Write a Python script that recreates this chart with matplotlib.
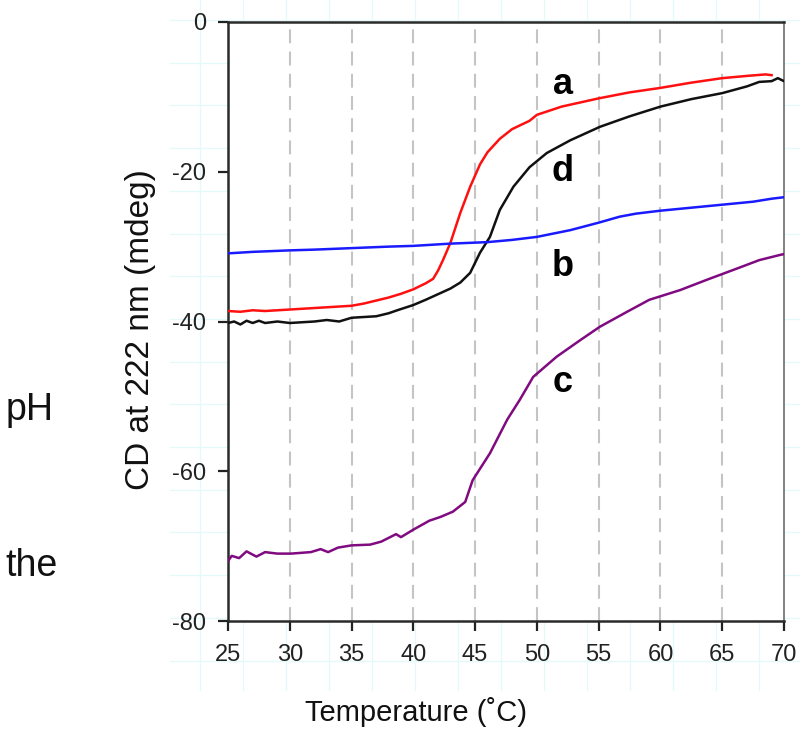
import matplotlib
matplotlib.use("Agg")
import matplotlib.pyplot as plt
from matplotlib.lines import Line2D

plt.rcParams['font.family'] = ['Liberation Sans', 'DejaVu Sans']
plt.rcParams['axes.unicode_minus'] = False
plt.rcParams['lines.scale_dashes'] = False

# ---- data ----
temp_a = [25, 26, 27, 28, 30, 32, 34, 35, 36, 37, 38, 39, 40, 41, 41.6, 42, 42.4, 43.0, 43.8,
          44.6, 45.4, 46.0, 47.0, 48, 49.4, 50, 52, 55, 57.5, 60, 62.5, 65, 67, 68.5, 69]
cd_a = [-38.6, -38.7, -38.5, -38.6, -38.4, -38.2, -38.0, -37.9, -37.6, -37.2, -36.8, -36.3, -35.7,
        -34.9, -34.3, -33.2, -31.8, -29.5, -25.5, -22.0, -19.0, -17.4, -15.6, -14.3, -13.2,
        -12.4, -11.3, -10.2, -9.4, -8.8, -8.1, -7.5, -7.2, -7.0, -7.1]

temp_d = [25, 25.5, 26, 26.5, 27, 27.5, 28, 29, 30, 31, 32, 33, 34, 35, 36, 37, 38, 38.7, 40, 41,
          42.2, 43, 43.8, 44.6, 45.4, 46.2, 47, 48.1, 49.4, 50.8, 52.7, 55.1, 57.5, 60, 62.5,
          65, 67, 68, 69, 69.5, 70]
cd_d = [-40.2, -40.0, -40.4, -39.9, -40.2, -39.9, -40.2, -40.0, -40.2, -40.1, -40.0, -39.8, -40.0,
        -39.5, -39.4, -39.3, -38.9, -38.5, -37.8, -37.1, -36.2, -35.6, -34.8, -33.5, -30.8,
        -28.7, -25.1, -22.0, -19.4, -17.5, -15.8, -14.0, -12.6, -11.3, -10.3, -9.5, -8.6,
        -8.0, -7.9, -7.5, -7.9]

temp_b = [25, 27, 30, 32, 35, 38, 40, 43, 46, 48, 50, 52.7, 55, 56.7, 58, 60, 62.5, 65, 67.5, 69, 70]
cd_b = [-30.9, -30.7, -30.5, -30.4, -30.2, -30.0, -29.9, -29.6, -29.4, -29.1, -28.7, -27.8,
        -26.8, -26.0, -25.6, -25.2, -24.8, -24.4, -24.0, -23.6, -23.4]

temp_c = [25, 25.3, 25.9, 26.5, 27.3, 28, 29, 30.1, 31.7, 32.5, 33.1, 33.9, 35, 36.5, 37.4, 38.6,
          39, 40, 41.3, 42.2, 43.2, 44.2, 44.8, 46.2, 47.6, 48.6, 49.7, 51.6, 53.5, 55.1, 57.3,
          59.1, 61.6, 63.8, 66.4, 68, 69.7, 70]
cd_c = [-72.0, -71.3, -71.6, -70.7, -71.4, -70.8, -71.0, -71.0, -70.8, -70.4, -70.8, -70.2,
        -69.9, -69.8, -69.4, -68.4, -68.8, -67.8, -66.6, -66.1, -65.4, -64.1, -61.2, -57.6,
        -53.1, -50.5, -47.4, -44.7, -42.5, -40.7, -38.7, -37.1, -35.8, -34.4, -32.8, -31.8,
        -31.1, -31.0]

curve_labels = ['a', 'd', 'b', 'c']
label_x = [52.1, 52.1, 52.1, 52.1]
label_y = [-8.3, -20.0, -32.6, -48.2]

x_ticks = [25, 30, 35, 40, 45, 50, 55, 60, 65, 70]
y_ticks = [0, -20, -40, -60, -80]

# ---- figure ----
W, H = 800, 739
fig = plt.figure(figsize=(W / 100, H / 100), dpi=100)

# faint cyan page grid in the background
cyan = '#e4f9f9'
for k in range(17):
    yp = 20 + 42.7 * k
    if yp > 690:
        break
    fig.add_artist(Line2D([170 / W, 1.0], [1 - yp / H, 1 - yp / H], color=cyan, lw=0.9, zorder=0))
for k in range(16):
    xp = 200 + 43 * k
    if xp > W:
        break
    fig.add_artist(Line2D([xp / W, xp / W], [1 - 690 / H, 1.0], color=cyan, lw=0.9, zorder=0))

ax = fig.add_axes([228 / W, 1 - 621 / H, (784 - 228) / W, (621 - 22) / H])
ax.set_facecolor('white')

ax.plot(temp_a, cd_a, color='#ff1010', lw=1.8, zorder=3)
ax.plot(temp_d, cd_d, color='#111111', lw=1.8, zorder=3)
ax.plot(temp_b, cd_b, color='#1a1aff', lw=1.8, zorder=3)
ax.plot(temp_c, cd_c, color='#800a80', lw=1.8, zorder=3)

for t, x, y in zip(curve_labels, label_x, label_y):
    ax.text(x, y, t, fontsize=26, fontweight='bold', ha='center', va='center', color='black', zorder=4)

ax.set_xlim(25, 70)
ax.set_ylim(-80, 0)
ax.set_xticks(x_ticks)
ax.set_yticks(y_ticks)
ax.set_xticklabels([str(v) for v in x_ticks])
ax.set_yticklabels([str(v) for v in y_ticks])

for xv in x_ticks[1:-1]:
    ax.axvline(xv, color='#c4c4c4', lw=1.5, dashes=(10, 6), zorder=1)

ax.tick_params(axis='both', direction='out', width=1.6, colors='#222222', labelsize=17)
ax.tick_params(axis='x', length=7.5, pad=9)
ax.tick_params(axis='y', length=7, pad=9)
for side in ['left', 'top', 'bottom']:
    ax.spines[side].set_linewidth(1.8)
    ax.spines[side].set_color('#2a2a2a')
ax.spines['right'].set_linewidth(1.3)
ax.spines['right'].set_color('#777777')

fig.text(416 / W, 1 - 712 / H, 'Temperature (˚C)', fontsize=21, ha='center', va='center', color='#111111')
fig.text(140 / W, 1 - 330 / H, 'CD at 222 nm (mdeg)', fontsize=24, rotation=90,
         ha='center', va='center', color='#111111')

fig.text(30 / W, 1 - 410 / H, 'pH', fontsize=27, ha='center', va='center', color='#111111')
fig.text(32 / W, 1 - 566 / H, 'the', fontsize=27, ha='center', va='center', color='#111111')

fig.savefig('out.png', dpi=100, facecolor='white')
